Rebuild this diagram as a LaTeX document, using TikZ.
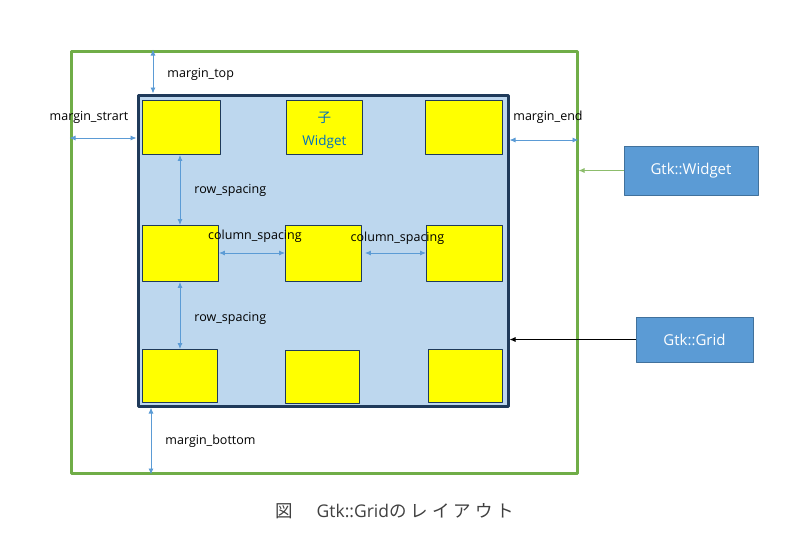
\documentclass[tikz,border=0pt]{standalone}
\usepackage{fontspec}
\setmainfont{Open Sans}
\newfontfamily\jpfont{Noto Sans CJK JP}
\usetikzlibrary{arrows.meta,positioning}
\definecolor{outergreen}{HTML}{70AD47}
\definecolor{gridfill}{HTML}{BDD7EE}
\definecolor{gridline}{HTML}{1F3A5A}
\definecolor{childyellow}{HTML}{FFFF00}
\definecolor{dimblue}{HTML}{5B9BD5}
\definecolor{boxblue}{HTML}{5B9BD5}
\definecolor{boxline}{HTML}{41719C}
\definecolor{textblue}{HTML}{0070C0}
\definecolor{captiongray}{HTML}{404040}
\begin{document}
\begin{tikzpicture}[x=1pt, y=-1pt, font=\fontsize{12.5}{14}\selectfont, line join=round, >={Latex[length=6pt,width=5pt]},
    child/.style={draw=gridline, fill=childyellow, line width=0.9pt, inner sep=0, anchor=north west},
    dim/.style={<->, draw=dimblue, line width=0.9pt},
    lbl/.style={inner sep=0, text=black},
    classbox/.style={draw=boxline, fill=boxblue, line width=0.9pt, text=white, font=\fontsize{15}{17}\selectfont}]
    \useasboundingbox (0,0) rectangle (790,546);
    % Gtk::Widget and Gtk::Grid
    \node[draw=outergreen, line width=3pt, minimum width=506, minimum height=422, inner sep=0] (outer) at (324,262) {};
    \node[draw=gridline, fill=gridfill, line width=3pt, minimum width=370, minimum height=311, inner sep=0] (grid) at (323,250.5) {};
    % children
    \foreach \n/\x/\y/\w/\h in {a1/142/100/78/54, b1/286/100/76/54, c1/425/100/77/54,
        a2/142/225/76/56, b2/285/225/76/56, c2/426/225/76/56,
        a3/142/349/75/53, b3/285/350/74/53, c3/428/349/74/53}
        \node[child, minimum width=\w, minimum height=\h] (\n) at (\x,\y) {};
    \node[text=textblue, align=center, font=\fontsize{13.5}{23}\selectfont, yshift=-3pt] (childtxt) at (b1) {\jpfont 子\\Widget};
    % margins
    \coordinate (mtop) at (153,0);
    \coordinate (mbot) at (151,0);
    \coordinate (mstart) at (0,138);
    \coordinate (mend) at (0,140);
    \draw[dim] (outer.north -| mtop) -- (grid.north -| mtop) node[lbl, midway, right=14pt, yshift=-3pt] (ltop) {margin\_top};
    \draw[dim] (outer.west |- mstart) -- (grid.west |- mstart) node[lbl, midway, above=14pt, xshift=-14pt] (lstart) {margin\_strart};
    \draw[dim] (grid.east |- mend) -- (outer.east |- mend) node[lbl, midway, above=16pt, xshift=4pt] (lend) {margin\_end};
    \draw[dim] (grid.south -| mbot) -- (outer.south -| mbot) node[lbl, midway, right=14pt] (lbot) {margin\_bottom};
    % spacings
    \coordinate (rs) at (180,0);
    \coordinate (cs) at (0,253);
    \draw[dim] (a1.south -| rs) -- (a2.north -| rs) node[lbl, midway, right=14pt] (lrow1) {row\_spacing};
    \draw[dim] (a2.south -| rs) -- (a3.north -| rs) node[lbl, midway, right=14pt, yshift=-3pt] (lrow2) {row\_spacing};
    \draw[dim] (a2.east |- cs) -- (b2.west |- cs) node[lbl, midway, above=10pt, xshift=3pt] (lcol1) {column\_spacing};
    \draw[dim] ([xshift=3pt]b2.east |- cs) -- (c2.west |- cs) node[lbl, midway, above=8pt, xshift=2pt] (lcol2) {column\_spacing};
    % class boxes
    \node[classbox, minimum width=134, minimum height=49] (gw) at (691,170.5) {Gtk::Widget};
    \node[classbox, minimum width=117, minimum height=45] (gg) at (694.5,339.5) {Gtk::Grid};
    \draw[->, outergreen!80, line width=0.9pt] (gw.west) -- (outer.east |- gw.west);
    \draw[->, black, line width=0.9pt] (gg.west) -- (grid.east |- gg.west);
    % caption
    \node[text=captiongray, font=\fontsize{17.5}{21}\selectfont, anchor=west, inner sep=0] (caption) at (275,511)
        {{\jpfont 図}\hspace{24pt}Gtk::Grid{\jpfont の\hspace{4pt}レ\hspace{4pt}イ\hspace{4pt}ア\hspace{4pt}ウ\hspace{4pt}ト}};
\end{tikzpicture}
\end{document}
